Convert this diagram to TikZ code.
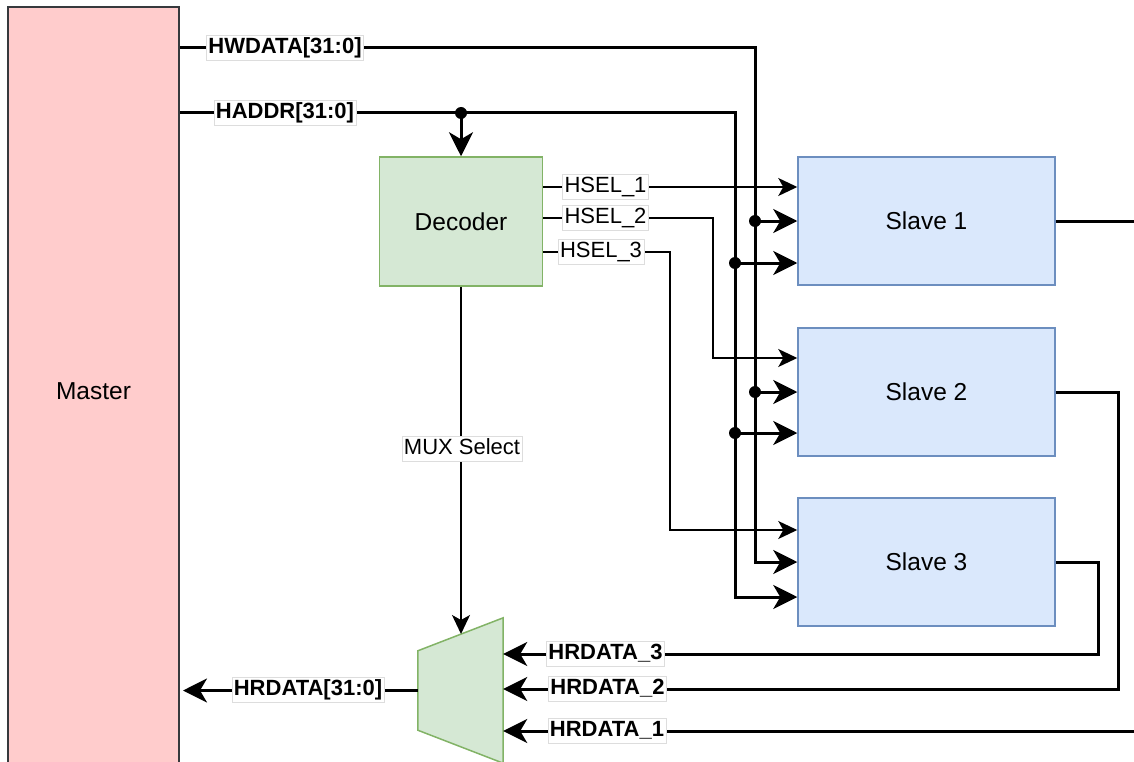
\documentclass[tikz,border=0pt]{standalone}
\usepackage{fontspec}
\setmainfont{Liberation Sans}
\usetikzlibrary{arrows.meta}
\definecolor{masterfill}{HTML}{FFCCCC}
\definecolor{masterline}{HTML}{36393D}
\definecolor{greenfill}{HTML}{D5E8D4}
\definecolor{greenline}{HTML}{82B366}
\definecolor{bluefill}{HTML}{DAE8FC}
\definecolor{blueline}{HTML}{6C8EBF}
\definecolor{labelline}{HTML}{DDDDDD}
\begin{document}
\begin{tikzpicture}[x=1pt,y=-1pt,
  boxtext/.style={font=\fontsize{24.5}{29}\selectfont},
  masterbox/.style={draw=masterline,fill=masterfill,line width=2pt,boxtext},
  greenbox/.style={draw=greenline,fill=greenfill,line width=1.5pt,boxtext},
  slavebox/.style={draw=blueline,fill=bluefill,line width=1.5pt,
    minimum width=257pt,minimum height=128pt,boxtext},
  busline/.style={line width=3pt},
  busarrow/.style={busline,-{Stealth[length=24pt,width=24pt,inset=7pt]}},
  sigline/.style={line width=1.5pt},
  sigarrow/.style={sigline,-{Stealth[length=19pt,width=18pt,inset=5pt]}},
  joint/.style={circle,fill=black,inner sep=0pt,minimum size=12pt},
  lbl/.style={fill=white,draw=labelline,line width=0.6pt,inner xsep=2pt,
    inner ysep=2pt,text height=16pt,text depth=5pt,
    font=\fontsize{22}{26}\selectfont},
  buslbl/.style={lbl,font=\bfseries\fontsize{22}{26}\selectfont}
]
\useasboundingbox (0,0) rectangle (1134,762);
\clip (0,0) rectangle (1134,762);

% ---- blocks ----
\node[masterbox,minimum width=171pt,minimum height=768pt] (master) at (93.5,391) {Master};
\node[greenbox,minimum width=163pt,minimum height=129pt] (dec) at (461,221.5) {Decoder};
\node[slavebox] (s1) at (926.5,221) {Slave 1};
\node[slavebox] (s2) at (926.5,392) {Slave 2};
\node[slavebox] (s3) at (926.5,562) {Slave 3};

% multiplexer: invisible frame for anchors, trapezoid drawn from its corners
\node[inner sep=0pt,minimum width=85pt,minimum height=145pt] (mux) at (460.5,690.5) {};
\draw[draw=greenline,fill=greenfill,line width=1.5pt]
  ([yshift=-33pt]mux.north west) -- (mux.north east) -- (mux.south east)
  -- ([yshift=33pt]mux.south west) -- cycle;
\coordinate (muxsel) at (461,634);

% ---- routing points ----
\coordinate (hwa) at (755,48);
\coordinate (hwb) at (755,562);
\coordinate (hwj1) at (755,221);
\coordinate (hwj2) at (755,392);
\coordinate (hadec) at (461,113);
\coordinate (haa) at (735,113);
\coordinate (hab) at (735,597);
\coordinate (haj1) at (735,263);
\coordinate (haj2) at (735,433);
\coordinate (hs1) at (700,187);
\coordinate (hs2a) at (713,218);
\coordinate (hs2b) at (713,358);
\coordinate (hs3a) at (670,252);
\coordinate (hs3b) at (670,530);
\coordinate (s1out) at (1140,221);
\coordinate (s2a) at (1118,392);
\coordinate (s2b) at (1118,689);
\coordinate (s3a) at (1098,562);
\coordinate (s3b) at (1098,654);
\coordinate (hr1) at (1140,731);

% ---- HWDATA bus ----
\draw[busarrow] (master.east |- hwa) -- (hwa) -- (hwb) -- (s3.west |- hwb);
\draw[busarrow] (hwj1) -- (s1.west |- hwj1);
\draw[busarrow] (hwj2) -- (s2.west |- hwj2);

% ---- HADDR bus ----
\draw[busarrow] (master.east |- haa) -- (haa) -- (hab) -- (s3.west |- hab);
\draw[busarrow] (hadec) -- (dec.north);
\draw[busarrow] (haj1) -- (s1.west |- haj1);
\draw[busarrow] (haj2) -- (s2.west |- haj2);

% ---- select lines ----
\draw[sigarrow] (dec.east |- hs1) -- (s1.west |- hs1);
\draw[sigarrow] (dec.east |- hs2a) -- (hs2a) -- (hs2b) -- (s2.west |- hs2b);
\draw[sigarrow] (dec.east |- hs3a) -- (hs3a) -- (hs3b) -- (s3.west |- hs3b);
\draw[sigarrow] (dec.south) -- (muxsel);

% ---- read data ----
\draw[busline] (s1.east) -- (s1out);
\draw[busarrow] (s2.east) -- (s2a) -- (s2b) -- (mux.east |- s2b);
\draw[busarrow] (s3.east) -- (s3a) -- (s3b) -- (mux.east |- s3b);
\draw[busarrow] (hr1) -- (mux.east |- hr1);
\draw[busarrow,shorten >=3pt] (mux.west) -- (master.east |- mux.west);

% ---- junctions ----
\node[joint] (jd) at (hadec) {};
\node[joint] (jw1) at (hwj1) {};
\node[joint] (jw2) at (hwj2) {};
\node[joint] (ja1) at (haj1) {};
\node[joint] (ja2) at (haj2) {};

% ---- labels ----
\node[buslbl] (lhw) at (285,48) {HWDATA[31:0]};
\node[buslbl] (lha) at (285,113) {HADDR[31:0]};
\node[lbl] (ls1) at (605.5,187) {HSEL\_1};
\node[lbl] (ls2) at (605.5,218) {HSEL\_2};
\node[lbl] (ls3) at (601,252) {HSEL\_3};
\node[lbl] (lmux) at (462,449) {MUX Select};
\node[buslbl] (lhr) at (308,690) {HRDATA[31:0]};
\node[buslbl] (lr3) at (605.5,654) {HRDATA\_3};
\node[buslbl] (lr2) at (607.5,689) {HRDATA\_2};
\node[buslbl] (lr1) at (607,731) {HRDATA\_1};
\end{tikzpicture}
\end{document}
